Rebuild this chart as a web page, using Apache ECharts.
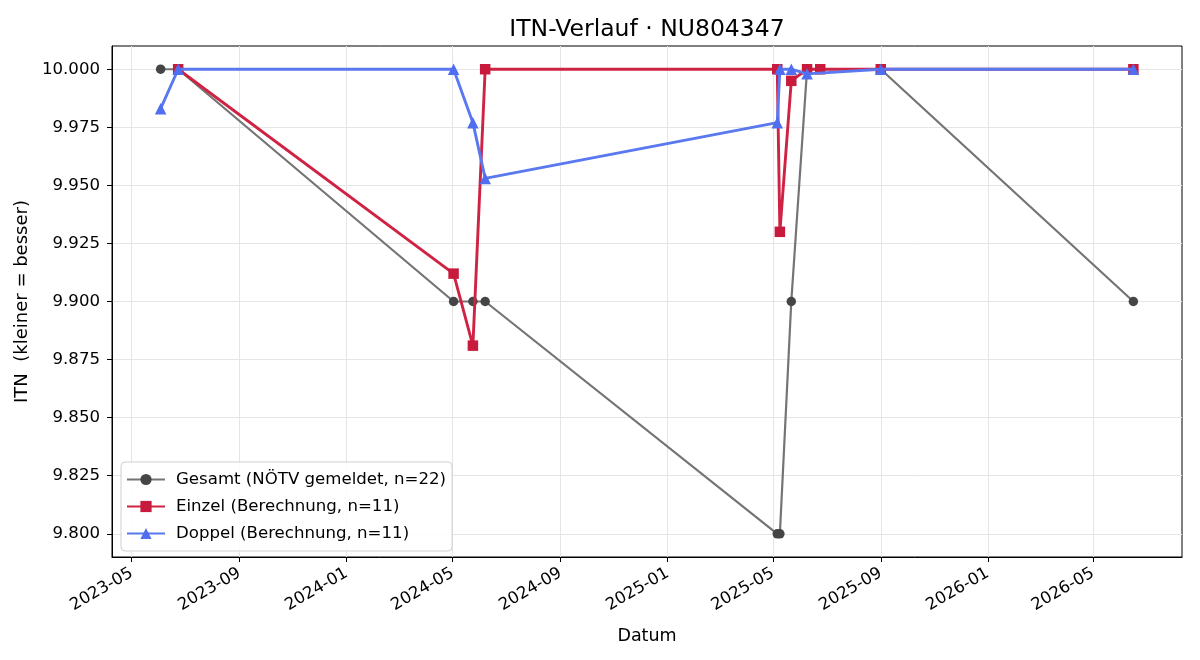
<!DOCTYPE html>
<html>
<head>
<meta charset="utf-8">
<script src="https://cdn.jsdelivr.net/npm/echarts@6/dist/echarts.min.js"></script>
<style>
	html, body { margin: 0; padding: 0; background: #fff; }
	#chart { width: 1200px; height: 660px; }
</style>
</head>
<body>
<div id="chart"></div>
<script>
// Gesamt (NÖTV gemeldet)
const gesamtDates = [ '2023-06-03', '2023-06-23', '2024-05-02', '2024-05-24', '2024-06-07', '2025-05-06',
	'2025-05-09', '2025-05-22', '2025-06-09', '2025-06-24', '2025-09-01', '2026-06-16' ];
const gesamtValues = [ 10.0, 10.0, 9.9, 9.9, 9.9, 9.8, 9.8, 9.9, 10.0, 10.0, 10.0, 9.9 ];

// Einzel (Berechnung)
const einzelDates = [ '2023-06-23', '2024-05-02', '2024-05-24', '2024-06-07', '2025-05-06', '2025-05-09',
	'2025-05-22', '2025-06-09', '2025-06-24', '2025-09-01', '2026-06-16' ];
const einzelValues = [ 10.0, 9.912, 9.881, 10.0, 10.0, 9.930, 9.995, 10.0, 10.0, 10.0, 10.0 ];

// Doppel (Berechnung)
const doppelDates = [ '2023-06-03', '2023-06-23', '2024-05-02', '2024-05-24', '2024-06-07', '2025-05-06',
	'2025-05-09', '2025-05-22', '2025-06-09', '2025-09-01', '2026-06-16' ];
const doppelValues = [ 9.983, 10.0, 10.0, 9.977, 9.953, 9.977, 10.0, 10.0, 9.998, 10.0, 10.0 ];

const xTickLabels = [ '2023-05', '2023-09', '2024-01', '2024-05', '2024-09', '2025-01',
	'2025-05', '2025-09', '2026-01', '2026-05' ];
const yTicks = [ 9.8, 9.825, 9.85, 9.875, 9.9, 9.925, 9.95, 9.975, 10.0 ];

const seriesNames = [ 'Gesamt (NÖTV gemeldet, n=22)', 'Einzel (Berechnung, n=11)', 'Doppel (Berechnung, n=11)' ];

const FONT = 'DejaVu Sans';
const GRID_LEFT = 112;
const GRID_RIGHT = 18;
const toTime = ( s ) => new Date( s + 'T00:00:00' ).getTime();
const pairs = ( dates, values ) => dates.map( ( d, i ) => [ toTime( d ), values[ i ] ] );

// matplotlib-style 5% margins around the data
const allTimes = gesamtDates.concat( einzelDates, doppelDates ).map( toTime );
const tMin = Math.min( ...allTimes );
const tMax = Math.max( ...allTimes );
const tPad = ( tMax - tMin ) * 0.05;
const xTickValues = xTickLabels.map( ( s ) => toTime( s + '-01' ) );

const pad2 = ( n ) => ( n < 10 ? '0' : '' ) + n;

const chart = echarts.init( document.getElementById( 'chart' ) );
// Title is centred over the plot area, not the whole canvas
const plotCenter = GRID_LEFT + ( chart.getWidth() - GRID_LEFT - GRID_RIGHT ) / 2;

chart.setOption( {
	animation: false,
	backgroundColor: '#fff',
	textStyle: { fontFamily: FONT },
	title: {
		text: 'ITN-Verlauf · NU804347',
		left: plotCenter,
		textAlign: 'center',
		top: 18,
		padding: 0,
		textStyle: { fontFamily: FONT, fontSize: 23.5, fontWeight: 'normal', color: '#000' }
	},
	grid: {
		left: GRID_LEFT,
		right: GRID_RIGHT,
		top: 46,
		bottom: 103,
		show: true,
		borderColor: '#000',
		borderWidth: 1,
		backgroundColor: 'transparent'
	},
	legend: {
		orient: 'vertical',
		left: 121,
		top: 462,
		padding: [ 9, 6, 9, 5 ],
		itemWidth: 38,
		itemHeight: 14,
		itemGap: 10,
		backgroundColor: 'rgba(255,255,255,0.85)',
		borderColor: '#d0d0d0',
		borderWidth: 1,
		borderRadius: 4,
		textStyle: { fontFamily: FONT, fontSize: 16.6, color: '#000', padding: [ 0, 0, 0, 6 ] },
		data: seriesNames
	},
	xAxis: {
		type: 'value',
		min: tMin - tPad,
		max: tMax + tPad,
		name: 'Datum',
		nameLocation: 'middle',
		nameGap: 70,
		nameTextStyle: { fontFamily: FONT, fontSize: 17.5, color: '#000' },
		axisLine: { show: true, onZero: false, lineStyle: { color: '#000', width: 1 } },
		axisTick: { show: true, length: 5, lineStyle: { color: '#000' }, customValues: xTickValues },
		axisLabel: {
			customValues: xTickValues,
			rotate: 30,
			margin: 15,
			fontFamily: FONT,
			fontSize: 16.6,
			color: '#000',
			formatter: ( v ) => {
				const d = new Date( v );
				return d.getFullYear() + '-' + pad2( d.getMonth() + 1 );
			}
		},
		splitLine: { show: true, lineStyle: { color: '#e5e5e5', width: 1 } }
	},
	yAxis: {
		type: 'value',
		min: 9.79,
		max: 10.01,
		name: 'ITN  (kleiner = besser)',
		nameLocation: 'middle',
		nameRotate: 90,
		nameGap: 78,
		nameTextStyle: { fontFamily: FONT, fontSize: 18, color: '#000' },
		axisLine: { show: true, onZero: false, lineStyle: { color: '#000', width: 1 } },
		axisTick: { show: true, length: 5, lineStyle: { color: '#000' }, customValues: yTicks },
		axisLabel: {
			customValues: yTicks,
			margin: 12,
			fontFamily: FONT,
			fontSize: 16.6,
			color: '#000',
			formatter: ( v ) => v.toFixed( 3 )
		},
		splitLine: { show: true, lineStyle: { color: '#e5e5e5', width: 1 } }
	},
	series: [
		{
			name: seriesNames[ 0 ],
			type: 'line',
			data: pairs( gesamtDates, gesamtValues ),
			symbol: 'circle',
			symbolSize: 9.5,
			z: 2,
			lineStyle: { color: '#747474', width: 2.2 },
			itemStyle: { color: '#454545' }
		},
		{
			name: seriesNames[ 1 ],
			type: 'line',
			data: pairs( einzelDates, einzelValues ),
			symbol: 'rect',
			symbolSize: 10.5,
			z: 3,
			lineStyle: { color: '#cf2343', width: 2.9 },
			itemStyle: { color: '#c81a3c' }
		},
		{
			name: seriesNames[ 2 ],
			type: 'line',
			data: pairs( doppelDates, doppelValues ),
			symbol: 'triangle',
			symbolSize: 11.5,
			z: 4,
			lineStyle: { color: '#5a78f0', width: 2.9 },
			itemStyle: { color: '#4f6ef0' }
		}
	]
} );
</script>
</body>
</html>
